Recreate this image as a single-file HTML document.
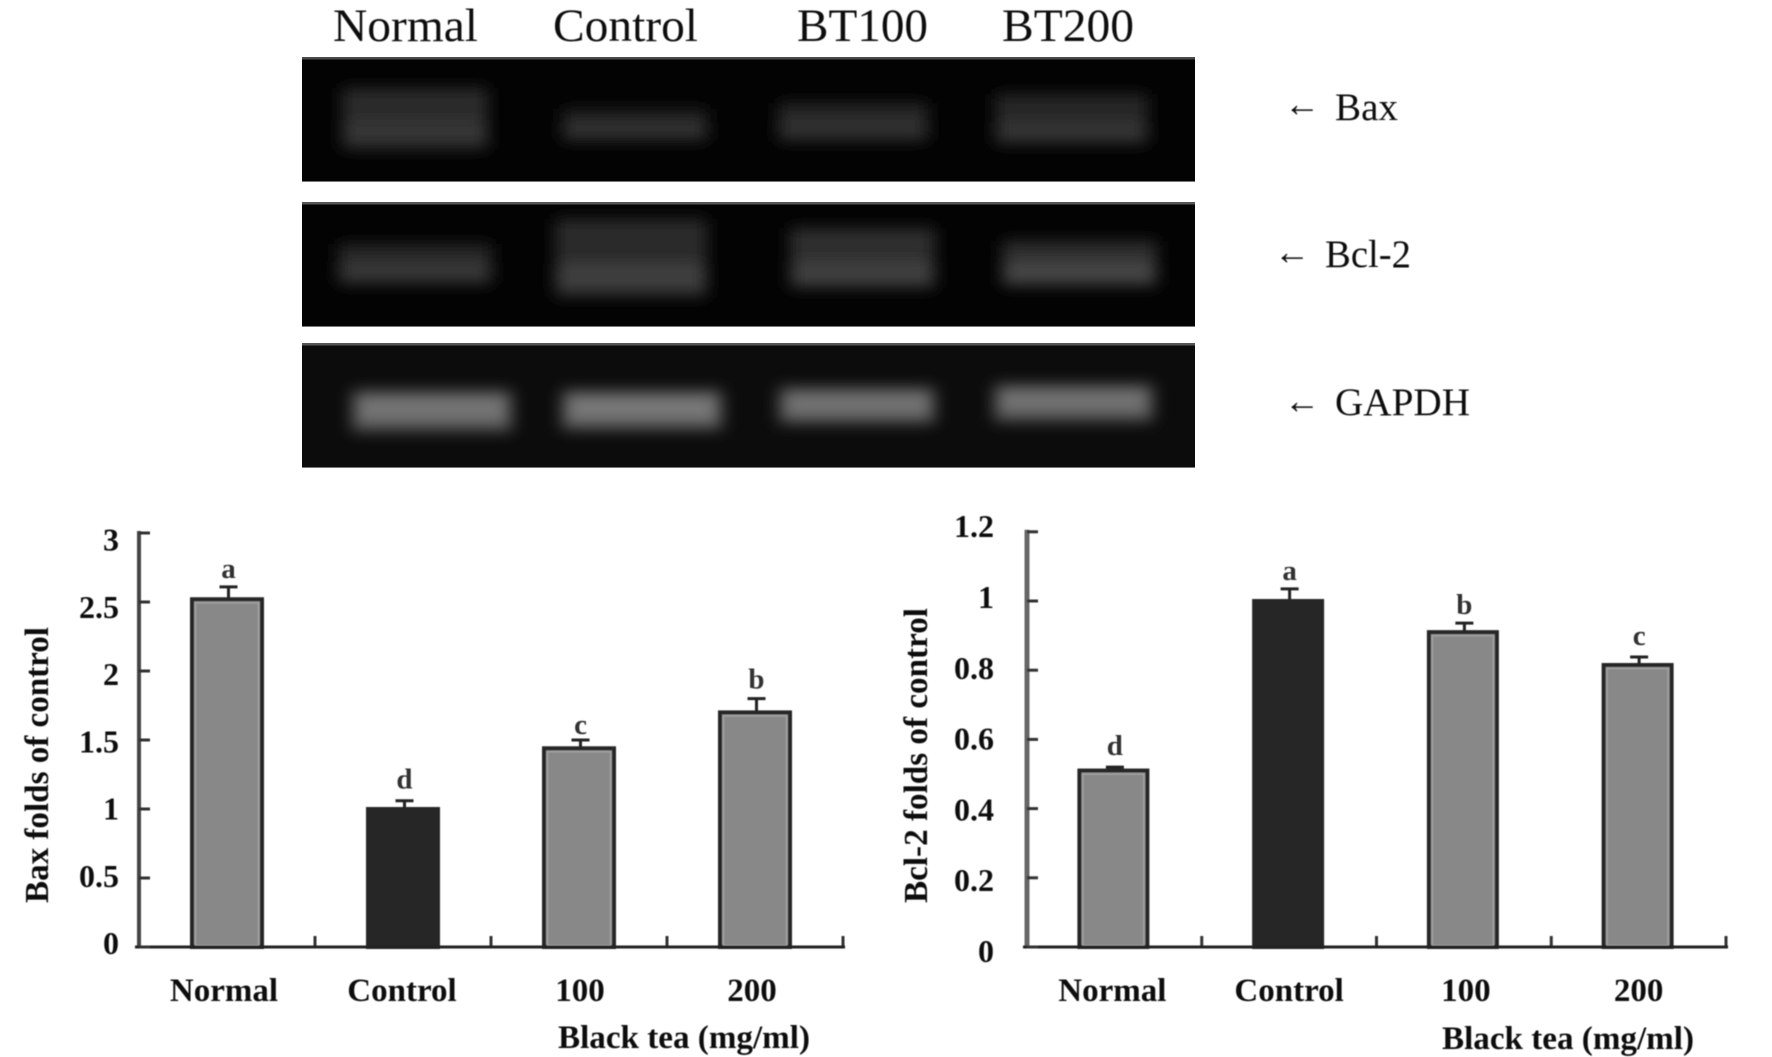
<!DOCTYPE html>
<html lang="en">
<head>
<meta charset="utf-8">
<title>Bax and Bcl-2 expression with black tea</title>
<style>
html,body{margin:0;padding:0;background:#fff;width:1772px;height:1057px;overflow:hidden}
svg{display:block}
text{font-family:"Liberation Serif",serif;fill:#111}
.bold{font-weight:bold}
</style>
</head>
<body>
<svg id="figure" xmlns="http://www.w3.org/2000/svg" width="1772" height="1057" viewBox="0 0 1772 1057">
  <defs>
    <filter id="b1" x="-30%" y="-100%" width="160%" height="300%"><feMorphology operator="dilate" radius="5 2"/><feGaussianBlur stdDeviation="8 7.5"/></filter>
    <filter id="b2" x="-30%" y="-100%" width="160%" height="300%"><feMorphology operator="dilate" radius="5 2"/><feGaussianBlur stdDeviation="8 7.5"/></filter>
    <filter id="soft" x="-2%" y="-2%" width="104%" height="104%"><feGaussianBlur stdDeviation="0.55"/></filter>
    <filter id="softer" x="-5%" y="-5%" width="110%" height="110%"><feGaussianBlur stdDeviation="0.4"/></filter>
  </defs>

  <g id="gel">
    <g filter="url(#softer)" font-size="47">
      <text x="333" y="41" textLength="145" lengthAdjust="spacingAndGlyphs">Normal</text>
      <text x="553" y="41" textLength="145" lengthAdjust="spacingAndGlyphs">Control</text>
      <text x="797" y="41" textLength="131" lengthAdjust="spacingAndGlyphs">BT100</text>
      <text x="1002" y="41" textLength="132" lengthAdjust="spacingAndGlyphs">BT200</text>
    </g>

    <g>
      <rect x="302" y="57" width="893" height="125" fill="#030303"/>
      <rect x="302" y="57" width="893" height="2.5" fill="#4a4a4a"/>
      <rect x="302" y="181" width="893" height="1" fill="#777"/>
      <g filter="url(#b1)">
        <rect x="347" y="90" width="136" height="57" fill="#2b2b2b"/>
        <rect x="567" y="111" width="136" height="28" fill="#232323"/>
        <rect x="783" y="105" width="140" height="34" fill="#272727"/>
        <rect x="1000" y="96" width="143" height="46" fill="#282828"/>
        <rect x="350" y="122" width="130" height="20" fill="#363636"/>
        <rect x="570" y="124" width="130" height="12" fill="#303030"/>
        <rect x="786" y="122" width="134" height="13" fill="#333"/>
        <rect x="1003" y="124" width="137" height="14" fill="#353535"/>
      </g>
    </g>

    <g>
      <rect x="302" y="202" width="893" height="125" fill="#030303"/>
      <rect x="302" y="202" width="893" height="2.5" fill="#555"/>
      <rect x="302" y="326" width="893" height="1" fill="#777"/>
      <g filter="url(#b1)">
        <rect x="343" y="246" width="144" height="36" fill="#262626"/>
        <rect x="560" y="221" width="142" height="74" fill="#2c2c2c"/>
        <rect x="795" y="230" width="135" height="56" fill="#2e2e2e"/>
        <rect x="1007" y="243" width="145" height="41" fill="#2d2d2d"/>
        <rect x="346" y="264" width="138" height="15" fill="#383838"/>
        <rect x="563" y="266" width="136" height="20" fill="#3f3f3f"/>
        <rect x="798" y="264" width="129" height="18" fill="#404040"/>
        <rect x="1010" y="265" width="139" height="15" fill="#464646"/>
      </g>
    </g>

    <g>
      <rect x="302" y="343" width="893" height="125" fill="#0c0c0c"/>
      <rect x="302" y="343" width="893" height="2.5" fill="#555"/>
      <rect x="302" y="467" width="893" height="1" fill="#777"/>
      <g filter="url(#b2)">
        <rect x="357" y="393" width="150" height="36" fill="#5a5a5a"/>
        <rect x="567" y="393" width="150" height="34" fill="#5e5e5e"/>
        <rect x="784" y="390" width="146" height="31" fill="#5a5a5a"/>
        <rect x="999" y="387" width="149" height="32" fill="#5a5a5a"/>
        <rect x="365" y="398" width="134" height="20" fill="#757575"/>
        <rect x="575" y="398" width="134" height="19" fill="#787878"/>
        <rect x="792" y="394" width="130" height="19" fill="#727272"/>
        <rect x="1007" y="391" width="133" height="18" fill="#727272"/>
      </g>
    </g>

    <g filter="url(#softer)" font-size="39.5">
      <text x="1284" y="116" font-size="36">←</text>
      <text x="1335" y="120" textLength="63" lengthAdjust="spacingAndGlyphs">Bax</text>
      <text x="1274" y="264" font-size="36">←</text>
      <text x="1325" y="267" textLength="86" lengthAdjust="spacingAndGlyphs">Bcl-2</text>
      <text x="1284" y="413" font-size="36">←</text>
      <text x="1335" y="415" textLength="135" lengthAdjust="spacingAndGlyphs">GAPDH</text>
    </g>
  </g>

  <g id="chart-bax" filter="url(#soft)"></g>
  <g id="chart-bcl2" filter="url(#soft)"></g>
</svg>

<script>
var categories = ['Normal', 'Control', '100', '200'];
var baxValues = [2.52, 1.0, 1.44, 1.70];
var baxErrors = [0.09, 0.06, 0.06, 0.10];
var baxLetters = ['a', 'd', 'c', 'b'];
var baxTicks = [0, 0.5, 1, 1.5, 2, 2.5, 3];
var baxTickLabels = ['0', '0.5', '1', '1.5', '2', '2.5', '3'];
var bcl2Values = [0.51, 1.0, 0.91, 0.815];
var bcl2Errors = [0.01, 0.035, 0.026, 0.023];
var bcl2Letters = ['d', 'a', 'b', 'c'];
var bcl2Ticks = [0, 0.2, 0.4, 0.6, 0.8, 1, 1.2];
var bcl2TickLabels = ['0', '0.2', '0.4', '0.6', '0.8', '1', '1.2'];
var darkCategory = 'Control';

var NS = 'http://www.w3.org/2000/svg';
function make(parent, tag, attrs, txt) {
  var el = document.createElementNS(NS, tag);
  for (var k in attrs) el.setAttribute(k, attrs[k]);
  if (txt !== undefined) el.textContent = txt;
  parent.appendChild(el);
  return el;
}

function drawChart(root, o) {
  function y(v) { return o.baseY - v * o.unit; }
  function labelY(v) { return o.labelBase - v * o.labelUnit; }
  var band = (o.endX - o.axisX) / o.cats.length;
  function cx(i) { return o.axisX + band * (i + 0.5) + o.barShift; }
  var AXIS = '#222';

  o.cats.forEach(function (cat, i) {
    var top = y(o.values[i]);
    var errTop = y(o.values[i] + o.errors[i]);
    var ex = cx(i) + 1.5;
    var half = o.barWidth / 2;
    var stem = make(root, 'line', { x1: ex, x2: ex, y1: top, y2: errTop, stroke: '#222', 'stroke-width': 3 });
    
    
    var cap = make(root, 'line', { x1: ex - 9, x2: ex + 9, y1: errTop, y2: errTop, stroke: '#222', 'stroke-width': 3 });
    
    
    var dark = cat === darkCategory;
    var bar = make(root, 'rect', {
      x: cx(i) - half, y: top, width: o.barWidth, height: o.baseY - top,
      fill: dark ? '#282828' : '#888', stroke: '#262626', 'stroke-width': 4
    });
    
    
    if (!dark) {
      var inner = make(root, 'rect', {
        x: cx(i) - half + 3.5, y: top + 3.5, width: o.barWidth - 7, height: o.baseY - top - 5,
        fill: 'none', stroke: '#a2a2a2', 'stroke-width': 1.5
      });
      
      
    }
    var letter = make(root, 'text', { x: ex, y: errTop - 9 + o.letterNudge[i], 'text-anchor': 'middle', 'font-size': 29, 'class': 'bold', style: 'fill:#333' }, o.letters[i]);
    
    
    var catLabel = make(root, 'text', { x: o.axisX + band * (i + 0.5) + o.catNudge[i], y: 1001, 'text-anchor': 'middle', 'font-size': 33, 'class': 'bold' }, cat);
    
    
    var xt = make(root, 'line', { x1: o.axisX + band * (i + 1), x2: o.axisX + band * (i + 1), y1: o.baseY, y2: o.baseY - 11, stroke: '#333', 'stroke-width': 3 });
    
    
  });

  var yAxis = make(root, 'line', { x1: o.axisX, x2: o.axisX, y1: y(o.ticks[o.ticks.length - 1]) - 2, y2: o.baseY + 1, stroke: o.yAxisColor, 'stroke-width': o.yAxisWidth });
  
  
  var xAxis = make(root, 'line', { x1: o.axisX - 4, x2: o.endX + 2, y1: o.baseY, y2: o.baseY, stroke: AXIS, 'stroke-width': 3 });
  
  

  o.ticks.forEach(function (t, i) {
    var tick = make(root, 'line', { x1: o.axisX, x2: o.axisX + 11, y1: y(t), y2: y(t), stroke: '#333', 'stroke-width': 3 });
    
    
    var lab = make(root, 'text', { x: o.labelX, y: labelY(t), 'text-anchor': 'end', 'font-size': 32, 'class': 'bold' }, o.tickLabels[i]);
    
    
  });

  var yTitle = make(root, 'text', {
    transform: 'translate(' + o.titleX + ',' + o.titleY + ') rotate(-90)',
    'font-size': 34, 'class': 'bold', textLength: o.titleLen, lengthAdjust: 'spacingAndGlyphs'
  }, o.title);
  
  
  var xTitle = make(root, 'text', { x: o.xTitleX, y: o.xTitleY, 'font-size': 33, 'class': 'bold', textLength: 252, lengthAdjust: 'spacingAndGlyphs' }, 'Black tea (mg/ml)');
  
  
}

drawChart(document.getElementById('chart-bax'), {
  cats: categories, values: baxValues, errors: baxErrors, letters: baxLetters,
  ticks: baxTicks, tickLabels: baxTickLabels,
  axisX: 139, endX: 843, baseY: 947, unit: 138, barShift: 0, barWidth: 70,
  catNudge: [-3, -1, 1, -3], letterNudge: [0, -3, 3, -1],
  labelX: 119, labelBase: 954, labelUnit: 134.5,
  yAxisColor: '#444', yAxisWidth: 4,
  title: 'Bax folds of control', titleX: 48, titleY: 903, titleLen: 276, xTitleX: 558, xTitleY: 1048
});
drawChart(document.getElementById('chart-bcl2'), {
  cats: categories, values: bcl2Values, errors: bcl2Errors, letters: bcl2Letters,
  ticks: bcl2Ticks, tickLabels: bcl2TickLabels,
  axisX: 1027, endX: 1726, baseY: 947, unit: 346, barShift: -1, barWidth: 68,
  catNudge: [-2, 0, 2, 0], letterNudge: [-3, 0, 0, -3],
  labelX: 994, labelBase: 962, labelUnit: 354,
  yAxisColor: '#666', yAxisWidth: 5,
  title: 'Bcl-2 folds of control', titleX: 927, titleY: 903, titleLen: 295, xTitleX: 1442, xTitleY: 1049
});
</script>
</body>
</html>
